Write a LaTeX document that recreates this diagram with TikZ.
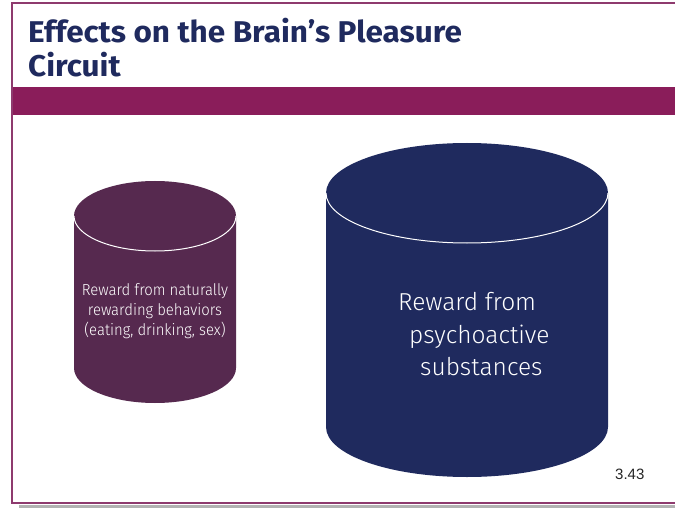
\documentclass[tikz,border=0pt]{standalone}
\usepackage{fontspec}
\setmainfont{Fira Sans}
\newfontfamily\titlefont{Fira Sans Bold}[FakeStretch=1.05]
\newfontfamily\lightfont{Fira Sans Light}
\newfontfamily\narrowlight{Fira Sans Light}[FakeStretch=0.93]
\newfontfamily\numfont{Liberation Sans}
\definecolor{navy}{HTML}{1F2A5E}
\definecolor{plum}{HTML}{56294F}
\definecolor{bandc}{HTML}{8A1D5A}
\definecolor{framec}{HTML}{8E3A6E}
\tikzset{
  titletext/.style={anchor=base west, inner sep=0pt, text=navy, font=\titlefont\fontsize{30}{30}\selectfont},
  smalltext/.style={anchor=base, inner sep=0pt, text=white, font=\narrowlight\fontsize{16}{20}\selectfont},
  bigtext/.style={anchor=base west, inner sep=0pt, text=white, font=\lightfont\fontsize{24.5}{30}\selectfont},
  rim/.style={draw=white, line width=1pt}
}
\begin{document}
\begin{tikzpicture}[x=1pt,y=-1pt]
\useasboundingbox (0,0) rectangle (675,508);
\fill[white] (0,0) rectangle (675,508);
% shadow and frame
\fill[black!30] (19,504.5) rectangle (675,507.5);
\draw[framec, line width=2pt] (676,3) -- (12,3) -- (12,503) -- (676,503);
% band
\fill[bandc] (13,87) rectangle (675,115);
% title
\node[titletext] (t1) at (28,43) {Effects on the Brain’s Pleasure};
\node[titletext] (t2) at (28,77) {Circuit};
% left cylinder
\fill[plum] (74,216) -- (74,368) arc[start angle=180,end angle=360,x radius=81pt,y radius=35pt]
  -- (236,216) arc[start angle=0,end angle=180,x radius=81pt,y radius=35pt] -- cycle;
\draw[rim] (74,216) arc[start angle=180,end angle=360,x radius=81pt,y radius=35pt];
% right cylinder
\fill[navy] (326,193) -- (326,427) arc[start angle=180,end angle=360,x radius=141pt,y radius=50pt]
  -- (608,193) arc[start angle=0,end angle=180,x radius=141pt,y radius=50pt] -- cycle;
\draw[rim] (326,193) arc[start angle=180,end angle=360,x radius=141pt,y radius=50pt];
% texts
\node[smalltext] (l1) at (155,295) {Reward from naturally};
\node[smalltext] (l2) at (155,315) {rewarding behaviors};
\node[smalltext] (l3) at (155,335) {(eating, drinking, sex)};
\node[bigtext] (r1) at (398,310) {Reward from};
\node[bigtext] (r2) at (409,343) {psychoactive};
\node[bigtext] (r3) at (420,375) {substances};
\node[anchor=base west, inner sep=0pt, font=\numfont\fontsize{15}{15}\selectfont, text=black!85] (num) at (615,479) {3.43};
\end{tikzpicture}
\end{document}
